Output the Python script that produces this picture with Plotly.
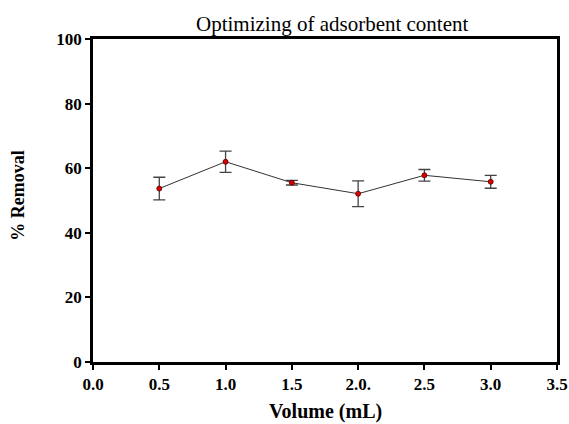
import plotly.graph_objects as go

volume = [0.5, 1.0, 1.5, 2.0, 2.5, 3.0]
removal = [53.7, 62.0, 55.5, 52.1, 57.8, 55.8]
error = [3.5, 3.3, 0.7, 4.0, 1.8, 2.0]
x_tickvals = [0.0, 0.5, 1.0, 1.5, 2.0, 2.5, 3.0, 3.5]
x_ticktext = ["<b>0.0</b>", "<b>0.5</b>", "<b>1.0</b>", "<b>1.5</b>", "<b>2.0.</b>", "<b>2.5</b>", "<b>3.0</b>", "<b>3.5</b>"]
y_tickvals = [0, 20, 40, 60, 80, 100]
y_ticktext = ["<b>0</b>", "<b>20</b>", "<b>40</b>", "<b>60</b>", "<b>80</b>", "<b>100</b>"]

font = "Liberation Serif"

fig = go.Figure()
fig.add_trace(go.Scatter(
    x=volume, y=removal,
    mode="lines+markers",
    line=dict(color="#333333", width=1),
    marker=dict(color="#dd0000", size=5, line=dict(color="#550000", width=0.8)),
    error_y=dict(type="data", array=error, visible=True, color="#444444", thickness=1.3, width=6),
    showlegend=False,
))

fig.update_layout(
    width=569, height=424,
    margin=dict(l=93, r=12, t=39, b=62, autoexpand=False),
    plot_bgcolor="white", paper_bgcolor="white",
    font=dict(family=font, color="black"),
    xaxis=dict(range=[0, 3.5], tickvals=x_tickvals, ticktext=x_ticktext,
               showline=True, linecolor="black", linewidth=2.5, mirror=True,
               ticks="outside", ticklen=5, tickwidth=1.5, tickcolor="black",
               showgrid=False, zeroline=False, automargin=False,
               tickfont=dict(size=17, family=font, color="black")),
    yaxis=dict(range=[0, 100], tickvals=y_tickvals, ticktext=y_ticktext,
               showline=True, linecolor="black", linewidth=2.5, mirror=True,
               ticks="outside", ticklen=5, tickwidth=1.5, tickcolor="black",
               showgrid=False, zeroline=False, automargin=False,
               tickfont=dict(size=17, family=font, color="black")),
    annotations=[
        dict(text="Optimizing of adsorbent content", xref="paper", yref="paper",
             x=0.516, y=1.0, yshift=1, xanchor="center", yanchor="bottom", showarrow=False,
             font=dict(size=21, family=font, color="black")),
        dict(text="<b>Volume (mL)</b>", xref="paper", yref="paper",
             x=0.5, y=0, yshift=-49, xanchor="center", yanchor="middle", showarrow=False,
             font=dict(size=20, family=font, color="black")),
        dict(text="<b>% Removal</b>", xref="paper", yref="paper",
             x=0, xshift=-75, y=0.515, xanchor="center", yanchor="middle", textangle=-90,
             showarrow=False, font=dict(size=18, family=font, color="black")),
    ],
)

fig.write_html("out.html", config={"displayModeBar": False},
               post_script="document.body.style.margin='0';document.body.style.overflow='hidden';")
